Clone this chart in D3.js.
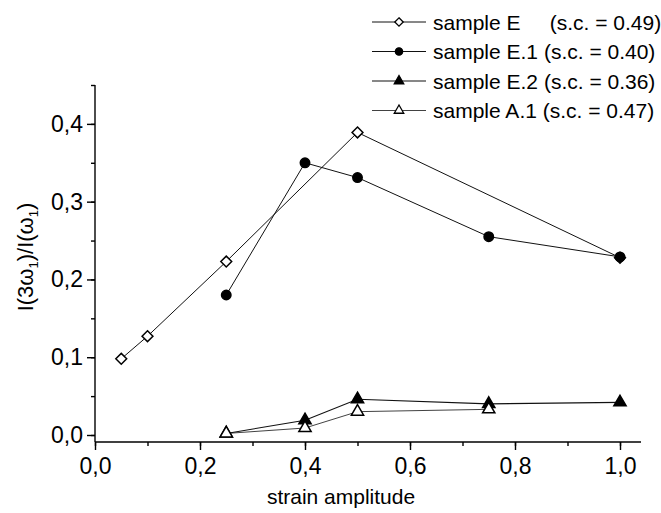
<!DOCTYPE html>
<html>
<head>
<meta charset="utf-8">
<script src="https://cdn.jsdelivr.net/npm/d3@7"></script>
<style>
  body { margin: 0; background: #fff; }
  text { font-family: Arial, "Liberation Sans", sans-serif; fill: #000; }
</style>
</head>
<body>
<svg id="chart" width="661" height="513"></svg>
<script>
// values
const xE = [0.05, 0.1, 0.25, 0.5, 1.0];
const yE = [0.098, 0.127, 0.223, 0.389, 0.228];
const xE1 = [0.25, 0.4, 0.5, 0.75, 1.0];
const yE1 = [0.18, 0.35, 0.331, 0.255, 0.229];
const xE2 = [0.25, 0.4, 0.5, 0.75, 1.0];
const yE2 = [0.002, 0.019, 0.046, 0.040, 0.042];
const xA1 = [0.25, 0.4, 0.5, 0.75];
const yA1 = [0.002, 0.009, 0.030, 0.033];
const legendLabels = ['sample E     (s.c. = 0.49)', 'sample E.1 (s.c. = 0.40)', 'sample E.2 (s.c. = 0.36)', 'sample A.1 (s.c. = 0.47)'];
const xTicks = [0, 0.2, 0.4, 0.6, 0.8, 1.0];
const yTicks = [0, 0.1, 0.2, 0.3, 0.4];

const svg = d3.select('#chart');
const mLeft = 95, mRight = 641, mTop = 85, mBottom = 442;

const x = d3.scaleLinear().domain([0, 1.04]).range([mLeft, mRight]);
const y = d3.scaleLinear().domain([-0.009, 0.45]).range([mBottom, mTop]);
const comma = d => d3.format('.1f')(d).replace('.', ',');

// axes
const xAxis = svg.append('g').attr('transform', `translate(0,${mBottom})`);
xAxis.call(d3.axisBottom(x).tickValues(d3.range(0, 1.05, 0.1)).tickSize(4).tickFormat(''));
xAxis.call(g => g.select('.domain').remove());
const xMaj = svg.append('g').attr('transform', `translate(0,${mBottom})`)
  .call(d3.axisBottom(x).tickValues(xTicks).tickSize(8).tickPadding(8).tickFormat(comma));
xMaj.select('.domain').attr('d', `M${mLeft},0H${mRight}`);

const yAxis = svg.append('g').attr('transform', `translate(${mLeft},0)`);
yAxis.call(d3.axisLeft(y).tickValues(d3.range(0, 0.451, 0.05)).tickSize(4).tickFormat(''));
yAxis.call(g => g.select('.domain').remove());
const yMaj = svg.append('g').attr('transform', `translate(${mLeft},0)`)
  .call(d3.axisLeft(y).tickValues(yTicks).tickSize(8).tickPadding(4).tickFormat(comma));
yMaj.select('.domain').attr('d', `M0,${mTop}V${mBottom}`);

svg.selectAll('.tick line, .domain').attr('stroke', '#000').attr('stroke-width', 1.4);
svg.selectAll('.tick text').style('font-size', '23px').attr('fill', '#000');

// titles
svg.append('text').attr('x', 341).attr('y', 504).attr('text-anchor', 'middle')
  .style('font-size', '21px').text('strain amplitude');

const yt = svg.append('text').attr('transform', 'translate(33,257) rotate(-90)')
  .attr('text-anchor', 'middle').style('font-size', '22px');
yt.append('tspan').text('I(3ω');
yt.append('tspan').attr('dy', 5).style('font-size', '13px').text('1');
yt.append('tspan').attr('dy', -5).text(')/I(ω');
yt.append('tspan').attr('dy', 5).style('font-size', '13px').text('1');
yt.append('tspan').attr('dy', -5).text(')');

// series
const series = [
  { xs: xE, ys: yE, shape: d3.symbolDiamond2, fill: '#fff', w: 1 },
  { xs: xE1, ys: yE1, shape: d3.symbolCircle, fill: '#000', w: 1 },
  { xs: xE2, ys: yE2, shape: d3.symbolTriangle, fill: '#000', w: 1.1 },
  { xs: xA1, ys: yA1, shape: d3.symbolTriangle, fill: '#fff', w: 0.8 }
];
const sizes = [75, 70, 65, 65];
const line = d3.line().x(d => x(d[0])).y(d => y(d[1]));

series.forEach((s, i) => {
  const pts = s.xs.map((v, j) => [v, s.ys[j]]);
  svg.append('path').datum(pts).attr('d', line)
    .attr('fill', 'none').attr('stroke', '#111').attr('stroke-width', s.w);
  svg.append('g').selectAll('path').data(pts).join('path')
    .attr('transform', d => `translate(${x(d[0])},${y(d[1])})`)
    .attr('d', d3.symbol().type(s.shape).size(sizes[i]))
    .attr('fill', s.fill).attr('stroke', '#000').attr('stroke-width', 1.5);
});

// legend
const lg = svg.append('g');
legendLabels.forEach((lab, i) => {
  const cy = 22 + i * 29.5;
  const s = series[i];
  lg.append('line').attr('x1', 372).attr('x2', 426).attr('y1', cy).attr('y2', cy)
    .attr('stroke', '#111').attr('stroke-width', s.w);
  lg.append('path').attr('transform', `translate(399,${cy})`)
    .attr('d', d3.symbol().type(s.shape).size(sizes[i] * 0.6))
    .attr('fill', s.fill).attr('stroke', '#000').attr('stroke-width', 1.3);
  lg.append('text').attr('x', 433).attr('y', cy + 7.5).style('font-size', '21px')
    .style('white-space', 'pre').text(lab);
});
</script>
</body>
</html>
